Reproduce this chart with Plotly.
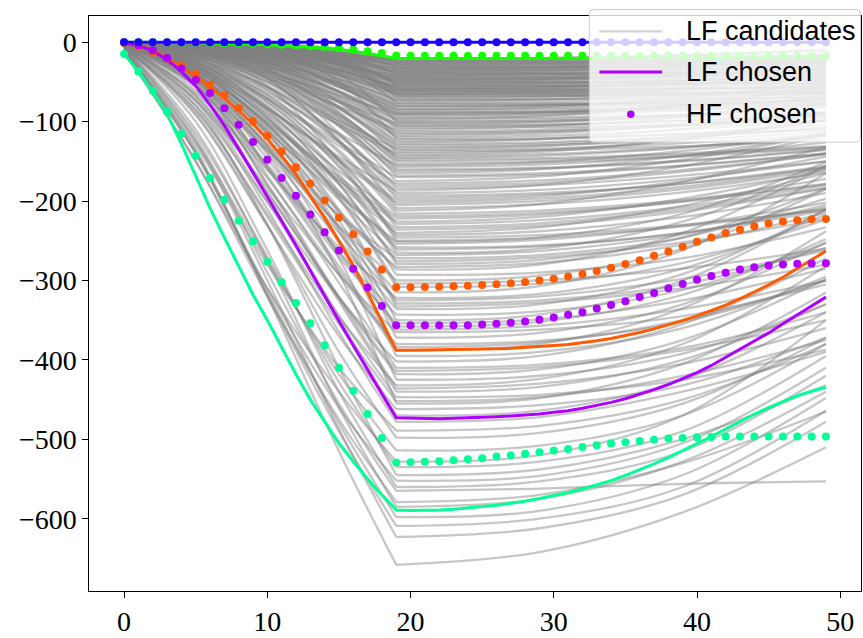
import plotly.graph_objects as go

# ---------------------------------------------------------------- data
steps = list(range(50))

# LF candidate curves, stored as values at knot positions.
# left part is sampled at knots_left, right part at knots_right (x=19 shared)
knots_left = [0, 5, 10, 15, 19]
knots_right = [19, 29, 39, 49]

# each row: [y0, y5, y10, y15, y19, y29, y39, y49]
cand_shallow = [
    [0, 0, -2, -8, -20, -20, -18, -16],
    [0, -1, -5, -13, -21, -20, -16, -11],
    [0, -3, -7, -15, -23, -23, -22, -21],
    [0, -1, -5, -14, -24, -22, -17, -9],
    [0, -1, -3, -10, -26, -25, -23, -19],
    [0, -3, -8, -17, -27, -27, -27, -27],
    [0, -1, -6, -17, -29, -28, -24, -17],
    [0, -1, -3, -12, -30, -30, -28, -25],
    [0, -2, -7, -19, -32, -32, -30, -28],
    [0, -4, -10, -21, -33, -32, -28, -23],
    [0, -1, -4, -14, -35, -35, -34, -33],
    [0, -2, -8, -22, -36, -34, -29, -21],
    [0, -4, -12, -24, -38, -37, -35, -31],
    [0, -1, -4, -16, -39, -39, -39, -39],
    [0, -2, -9, -25, -41, -40, -36, -29],
    [0, -5, -13, -27, -42, -41, -40, -37],
    [0, -1, -4, -18, -44, -44, -42, -40],
    [0, -2, -10, -27, -45, -44, -40, -35],
    [0, -5, -15, -30, -47, -47, -46, -45],
    [0, -2, -11, -29, -48, -46, -41, -33],
    [0, -1, -5, -20, -50, -49, -47, -43],
    [0, -6, -16, -33, -51, -51, -51, -51],
    [0, -3, -12, -32, -53, -52, -48, -41],
    [0, -1, -5, -22, -54, -54, -52, -49],
    [0, -3, -12, -34, -56, -56, -54, -52],
    [0, -6, -18, -36, -57, -56, -52, -47],
    [0, -1, -6, -24, -59, -59, -58, -57],
    [0, -3, -13, -36, -60, -58, -53, -45],
    [0, -7, -19, -40, -62, -61, -59, -55],
    [0, -1, -6, -25, -63, -63, -63, -63],
    [0, -3, -14, -39, -65, -64, -60, -53],
    [0, -7, -20, -42, -66, -65, -64, -61],
    [0, -1, -7, -27, -68, -68, -66, -64],
    [0, -4, -15, -42, -70, -69, -65, -60],
    [0, -8, -22, -46, -72, -72, -71, -70],
    [0, -4, -16, -44, -74, -72, -67, -59],
    [0, -2, -8, -30, -76, -75, -73, -69],
    [0, -9, -24, -50, -78, -78, -78, -78],
    [0, -4, -18, -48, -80, -79, -75, -68],
    [0, -2, -7, -14, -22, -22, -20, -17],
    [0, -1, -6, -15, -25, -25, -24, -23],
    [0, -3, -9, -18, -28, -27, -24, -20],
    [0, -1, -3, -12, -31, -31, -30, -28],
    [0, -2, -7, -20, -34, -33, -31, -28],
    [0, -4, -11, -24, -37, -36, -32, -25],
    [0, -1, -4, -16, -40, -40, -40, -39],
    [0, -2, -9, -26, -43, -42, -39, -34],
    [0, -5, -14, -29, -46, -46, -44, -42],
    [0, -2, -11, -29, -49, -48, -42, -35],
    [0, -1, -5, -21, -52, -51, -49, -46],
    [0, -6, -17, -35, -55, -55, -54, -52],
    [0, -3, -13, -35, -58, -57, -53, -47],
    [0, -7, -19, -39, -61, -61, -59, -56],
    [0, -3, -14, -38, -64, -63, -60, -56],
    [0, -1, -7, -27, -67, -67, -66, -65],
    [0, -2, -6, -13, -21, -21, -20, -19],
    [0, 0, -2, -9, -24, -24, -23, -21],
    [0, -1, -6, -16, -26, -26, -25, -24],
    [0, -3, -9, -19, -29, -29, -28, -26],
    [0, -1, -3, -13, -32, -31, -28, -24],
    [0, -4, -11, -22, -35, -35, -33, -30],
    [0, -2, -8, -23, -38, -38, -37, -36],
    [0, -1, -4, -16, -41, -40, -37, -33],
    [0, -5, -14, -28, -44, -44, -43, -41],
    [0, -2, -10, -28, -47, -46, -43, -38],
    [0, -6, -16, -32, -50, -50, -49, -48],
    [0, -1, -5, -21, -53, -52, -49, -44],
    [0, -6, -17, -36, -56, -55, -52, -48],
    [0, -3, -13, -35, -59, -59, -58, -57],
    [0, -1, -6, -25, -62, -61, -57, -51],
    [0, -7, -20, -42, -65, -65, -64, -63],
    [0, -3, -15, -41, -69, -68, -64, -58],
    [0, -8, -23, -47, -73, -72, -69, -65],
    [0, -4, -17, -46, -77, -77, -76, -75],
    [0, -9, -25, -51, -80.5, -80, -77, -73],
    [0, -9, -25, -52, -82, -80, -73, -62],
    [0, -9, -26, -54, -84, -83, -79, -72],
    [0, -4, -19, -51, -85, -82, -70, -50],
    [0, -4, -19, -52, -86, -85, -80, -72],
    [0, -10, -27, -56, -88, -87, -83, -76],
    [0, -10, -28, -57, -89, -88, -85, -80],
    [0, -5, -20, -54, -90, -88, -81, -70],
    [0, -11, -37, -67, -91, -89, -80, -63],
    [0, -5, -20, -55, -92, -90, -83, -71],
    [0, -5, -21, -56, -94, -92, -86, -76],
    [0, -11, -30, -61, -96, -95, -92, -88],
    [0, -11, -30, -62, -97, -93, -79, -57],
    [0, -11, -31, -63, -99, -97, -91, -82],
    [0, -2, -10, -40, -100, -99, -95, -90],
    [0, -12, -42, -75, -102, -100, -92, -78],
    [0, -5, -23, -62, -103, -101, -92, -78],
    [0, -5, -23, -63, -105, -104, -99, -92],
    [0, -12, -33, -68, -106, -104, -99, -91],
    [0, -5, -24, -65, -108, -107, -104, -99],
    [0, -13, -45, -81, -110, -106, -94, -65],
    [0, -12, -35, -72, -112, -110, -103, -93],
    [0, -6, -25, -68, -114, -112, -105, -94],
    [0, -13, -36, -74, -116, -113, -104, -90],
    [0, -13, -37, -76, -118, -115, -105, -88],
    [0, -6, -26, -71, -120, -118, -110, -98],
    [0, -2, -12, -49, -122, -121, -116, -110],
    [0, -6, -27, -74, -124, -122, -115, -104],
    [0, -6, -28, -76, -126, -122, -109, -88],
    [0, -14, -39, -81, -128, -126, -119, -108],
    [0, -14, -40, -83, -130, -128, -120, -108],
    [0, -15, -41, -84, -132, -130, -123, -113],
    [-1, -16, -55, -99, -134, -131, -118, -99],
    [0, -7, -29, -81, -136, -134, -127, -116],
    [0, -7, -30, -83, -138, -136, -131, -123],
    [-1, -17, -57, -104, -140, -136, -122, -98],
    [0, -16, -44, -91, -142, -138, -122, -97],
    [0, -16, -45, -93, -144, -141, -132, -118],
    [0, -7, -32, -88, -146, -143, -133, -118],
    [0, -7, -33, -89, -148, -146, -140, -131],
    [0, -17, -47, -96, -150, -148, -142, -132],
    [0, -7, -34, -92, -153, -151, -144, -133],
    [-1, -19, -64, -115, -155, -151, -137, -115],
    [0, -17, -49, -100, -157, -154, -143, -126],
    [0, -8, -35, -96, -160, -158, -149, -135],
    [0, -18, -50, -104, -162, -159, -150, -136],
    [0, -18, -51, -106, -165, -160, -143, -115],
    [0, -9, -37, -101, -168, -165, -155, -140],
    [-1, -20, -70, -126, -170, -167, -156, -140],
    [0, -9, -39, -105, -175, -169, -148, -115],
    [-1, -21, -72, -130, -178, -174, -161, -141],
    [0, -20, -56, -116, -181, -177, -163, -141],
    [0, -20, -57, -118, -184, -180, -168, -150],
    [-2, -30, -84, -144, -187, -180, -156, -117],
    [0, -10, -42, -114, -190, -186, -172, -150],
    [0, -21, -60, -124, -193, -190, -178, -158],
    [0, -22, -61, -126, -196, -192, -178, -156],
    [-1, -24, -82, -147, -199, -194, -175, -144],
    [-1, -24, -83, -150, -202, -197, -182, -158],
    [0, -10, -45, -123, -205, -200, -185, -160],
    [0, -10, -46, -125, -209, -204, -189, -164],
    [0, -23, -66, -136, -212, -204, -176, -132],
    [0, -24, -67, -139, -216, -212, -199, -178],
    [-1, -26, -90, -162, -219, -215, -201, -179],
    [-2, -35, -100, -170, -222, -217, -200, -172],
    [-2, -36, -102, -174, -226, -220, -197, -161],
    [0, -25, -71, -147, -229, -224, -207, -180],
    [0, -26, -72, -149, -233, -228, -210, -183],
    [-1, -28, -96, -174, -236, -231, -213, -184],
    [-1, -29, -98, -178, -240, -233, -206, -165],
    [0, -26, -75, -155, -243, -238, -220, -190],
    [0, -27, -76, -157, -246, -243, -230, -211],
    [0, -12, -55, -150, -250, -246, -232, -210],
    [-1, -30, -104, -188, -254, -249, -231, -202],
]

cand_mid = [
    [-2, -56, -193, -348, -470, -464, -425, -340],
    [-6, -92, -231, -370, -462, -457, -432, -372],
    [-1, -50, -141, -291, -455, -448, -405, -315],
    [-4, -72, -201, -344, -447, -444, -425, -387],
    [-2, -53, -180, -326, -440, -434, -400, -330],
    [-8, -86, -216, -346, -432, -424, -380, -282],
    [-1, -47, -132, -272, -425, -420, -392, -330],
    [-3, -67, -188, -322, -418, -412, -375, -298],
    [-2, -49, -168, -303, -410, -406, -385, -340],
    [-7, -80, -201, -322, -402, -395, -355, -272],
    [-1, -43, -122, -253, -395, -390, -360, -295],
    [-2, -47, -159, -287, -388, -380, -335, -238],
    [-3, -61, -171, -293, -380, -376, -352, -300],
    [-1, -41, -115, -238, -372, -366, -330, -252],
    [-6, -73, -183, -292, -365, -362, -345, -305],
    [-2, -43, -147, -265, -358, -352, -318, -248],
    [-1, -39, -109, -224, -350, -343, -300, -210],
    [-3, -55, -154, -264, -343, -339, -312, -253],
    [-2, -40, -138, -249, -336, -330, -292, -211],
    [-1, -36, -102, -211, -329, -325, -305, -259],
    [-5, -64, -161, -258, -322, -317, -285, -217],
    [-2, -38, -129, -233, -315, -307, -262, -165],
    [-1, -34, -95, -197, -308, -304, -278, -223],
    [-3, -48, -135, -231, -300, -294, -260, -185],
    [-1, -32, -91, -188, -293, -290, -272, -233],
    [-2, -34, -117, -212, -286, -280, -240, -156],
    [-1, -31, -86, -179, -279, -274, -246, -184],
    [-4, -54, -136, -218, -272, -268, -246, -197],
    [-1, -29, -82, -170, -265, -260, -226, -155],
    [-2, -31, -106, -191, -258, -256, -240, -208],
    [-2, -40, -113, -193, -251, -246, -216, -151],
    [-1, -28, -80, -166, -261, -257, -240, -212],
    [-2, -32, -110, -198, -268, -263, -242, -205],
    [-1, -30, -86, -178, -276, -271, -252, -222],
    [-3, -45, -128, -218, -283, -278, -255, -215],
    [-1, -33, -94, -194, -304, -300, -285, -260],
    [-2, -38, -132, -240, -325, -320, -298, -262],
    [-1, -37, -104, -215, -333, -328, -310, -280],
    [-3, -56, -158, -270, -354, -349, -325, -285],
    [-1, -40, -113, -233, -362, -357, -336, -300],
    [-2, -46, -156, -282, -384, -378, -350, -300],
    [-4, -68, -190, -320, -414, -409, -388, -350],
    [-2, -52, -178, -322, -436, -430, -405, -360],
    [-5, -85, -220, -355, -452, -447, -420, -375],
    [-3, -75, -210, -365, -478, -472, -440, -390],
]

cand_deep = [
    [-8, -135, -320, -515, -658, -642, -592, -510],
    [-6, -125, -300, -487, -623, -612, -570, -478],
    [-5, -120, -290, -455, -565, -562, -556, -553],
    [-10, -138, -318, -490, -609, -600, -560, -464],
    [-8, -140, -315, -480, -598, -590, -545, -448],
    [-12, -150, -320, -475, -579, -570, -530, -465],
    [-4, -100, -262, -440, -560, -553, -515, -420],
    [-10, -140, -310, -460, -552, -546, -505, -410],
    [-6, -115, -270, -428, -535, -528, -490, -395],
    [-8, -125, -275, -418, -514, -508, -470, -380],
    [-4, -90, -230, -390, -498, -492, -455, -372],
    [-10, -130, -280, -410, -489, -483, -450, -380],
    [-3, -80, -230, -410, -545, -538, -500, -432],
    [-5, -110, -275, -460, -585, -575, -528, -440],
    [-12, -150, -310, -440, -528, -520, -470, -350],
]

# chosen low-fidelity runs (full resolution)
lf_blue = [0.0] * 50
lf_green = [0, 0, 0, -0.2, -0.4, -0.7, -1.0, -1.4, -1.9, -2.5,
            -3.2, -4.0, -5.0, -6.2, -7.6, -9.4, -11.6, -14.2, -17.2, -20.5,
            -20.5, -20.5, -20.5, -20.5, -20.5, -20.5, -20.5, -20.5, -20.5, -20.5,
            -20.5, -20.5, -20.5, -20.5, -20.5, -20.5, -20.5, -20.5, -20.5, -20.5,
            -20.5, -20.5, -20.5, -20.5, -20.5, -20.5, -20.5, -20.5, -20.5, -20.5]
lf_orange = [-1, -4, -10, -20, -31, -43, -56, -70, -86, -103,
             -122, -143, -166, -193, -221, -250, -281, -315, -351, -388,
             -388, -387.8, -387.5, -387.2, -387, -386.5, -386, -385.5, -384.5, -383.5,
             -382, -380.5, -378.5, -376, -373, -369.5, -365.5, -361, -356, -350.5,
             -344.5, -338, -331, -323, -314.5, -305.5, -296, -284.5, -274, -263]
lf_purple = [-1, -4, -11, -22, -37, -55, -79, -105, -134, -164,
             -194, -225, -256, -288, -320, -351, -382, -413, -443, -473,
             -473.5, -474, -474, -473.5, -473, -472.5, -471.5, -470.5, -469.5, -468,
             -466, -464, -461, -457.5, -453.5, -449, -443.5, -437.5, -431, -424,
             -416, -407, -397, -387, -377, -366, -354.5, -343, -332, -321]
lf_teal = [-15, -37, -62, -90, -128, -169, -209, -246, -283, -318,
           -350, -385, -418, -450, -478, -505, -528, -550, -570, -589,
           -589.5, -589.5, -589, -588, -586.5, -585, -583, -580.5, -578, -574.5,
           -571, -567, -562.5, -557.5, -552, -545.5, -538.5, -531, -523, -514.5,
           -505.5, -496.5, -487, -477.5, -468.5, -460, -452, -445, -439.5, -434.5]

# chosen high-fidelity runs
hf_blue = [0.0] * 50
hf_green = [0, 0, 0, 0, -0.3, -0.5, -0.8, -1.2, -1.6, -2.0,
            -2.6, -3.2, -3.8, -4.8, -5.8, -7.2, -9.2, -11.3, -13.6, -16.8,
            -17.1, -17.1, -17.1, -17.1, -17.1, -17.1, -17.1, -17.1, -17.1, -17.1,
            -17.1, -17.1, -17.1, -17.1, -17.1, -17.1, -17.1, -17.1, -17.1, -17.1,
            -17.1, -17.1, -17.1, -17.1, -17.1, -17.1, -17.1, -17.1, -17.1, -17.1]
hf_orange = [-1, -5.8, -12.9, -20.5, -29.7, -40.1, -53.5, -66.8, -83.1, -99.8,
             -118.2, -137.4, -157.5, -177.9, -199.2, -220.6, -241.9, -263.6, -286.1, -308.6,
             -308.6, -308.2, -307.8, -307.4, -306.6, -305.7, -304.9, -303.6, -302.0, -299.9,
             -297.8, -294.9, -291.9, -288.2, -284.0, -279.4, -274.4, -269.0, -263.5, -257.7,
             -251.4, -246.0, -240.1, -236.0, -231.8, -228.4, -225.9, -224.3, -223.0, -222.6]
hf_purple = [0, -3.8, -10.0, -20.0, -33.0, -47.6, -63.9, -83.1, -104.0, -125.7,
             -147.9, -170.9, -193.4, -216.8, -239.3, -262.3, -285.3, -308.7, -332.1, -356.3,
             -356.3, -356.3, -356.3, -356.3, -356.3, -355.4, -354.6, -353.3, -351.7, -349.6,
             -346.6, -343.3, -340.0, -335.4, -330.8, -326.2, -320.8, -315.7, -309.9, -304.5,
             -299.0, -294.4, -290.3, -286.1, -283.2, -281.1, -279.8, -279.0, -278.6, -278.2]
hf_teal = [-15.0, -36.8, -61.0, -87.3, -115.3, -142.9, -170.9, -198.4, -224.7, -250.6,
           -276.5, -302.4, -328.3, -353.8, -381.5, -410.0, -439.0, -468.2, -498.3, -529.2,
           -528.8, -528.4, -527.5, -526.3, -525.0, -523.8, -521.7, -520.0, -518.3, -516.2,
           -514.2, -512.1, -509.6, -507.5, -505.4, -503.7, -502.0, -500.4, -499.1, -498.3,
           -497.4, -497.0, -496.6, -496.6, -496.6, -496.6, -496.6, -496.6, -496.6, -496.6]

series_names = ["teal", "orange", "purple", "green", "blue"]
series_colors = ["#00ff96", "#ff5a00", "#b000ff", "#14ff00", "#1e00ff"]
lf_series = [lf_teal, lf_orange, lf_purple, lf_green, lf_blue]
hf_series = [hf_teal, hf_orange, hf_purple, hf_green, hf_blue]

legend_labels = ["LF candidates", "LF chosen", "HF chosen"]

# ---------------------------------------------------------------- figure
CAND_COLOR = "rgba(128,128,128,0.45)"
CAND_WIDTH = 2.3
fig = go.Figure()

for row in cand_shallow + cand_mid + cand_deep:
    xs = knots_left + [None] + knots_right
    ys = row[:5] + [None] + row[4:]
    fig.add_trace(go.Scatter(
        x=xs, y=ys, mode="lines",
        line=dict(color=CAND_COLOR, width=CAND_WIDTH, shape="spline", smoothing=1),
        showlegend=False, hoverinfo="skip"))

for name, col, ys in zip(series_names, series_colors, lf_series):
    fig.add_trace(go.Scatter(
        x=steps, y=ys, mode="lines", name="LF " + name,
        line=dict(color=col, width=3), showlegend=False))

for name, col, ys in zip(series_names, series_colors, hf_series):
    fig.add_trace(go.Scatter(
        x=steps, y=ys, mode="markers", name="HF " + name,
        marker=dict(color=col, size=8, line=dict(width=0)), showlegend=False))

# plot area geometry (pixels) used to place the hand-built legend
W, H = 863, 638
ML, MR, MT, MB = 89, 1, 16, 43
PW, PH = W - ML - MR, H - MT - MB


def px_x(px):
    return (px - ML) / PW


def px_y(py):
    return 1 - (py - MT) / PH


# legend frame with rounded corners
x0, x1 = px_x(590), px_x(861.5)
y0, y1 = px_y(143), px_y(9.5)
rx, ry = 4 / PW, 4 / PH
frame = (f"M{x0 + rx},{y0} L{x1 - rx},{y0} Q{x1},{y0} {x1},{y0 + ry} "
         f"L{x1},{y1 - ry} Q{x1},{y1} {x1 - rx},{y1} "
         f"L{x0 + rx},{y1} Q{x0},{y1} {x0},{y1 - ry} "
         f"L{x0},{y0 + ry} Q{x0},{y0} {x0 + rx},{y0} Z")

shapes = [
    dict(type="path", path=frame, xref="paper", yref="paper", layer="above",
         fillcolor="rgba(255,255,255,0.8)", line=dict(color="#cccccc", width=1)),
    dict(type="line", xref="paper", yref="paper", layer="above",
         x0=px_x(600), x1=px_x(663), y0=px_y(31.5), y1=px_y(31.5),
         line=dict(color="rgba(128,128,128,0.35)", width=2.2)),
    dict(type="line", xref="paper", yref="paper", layer="above",
         x0=px_x(600), x1=px_x(663), y0=px_y(72.5), y1=px_y(72.5),
         line=dict(color=series_colors[2], width=3)),
    dict(type="circle", xref="paper", yref="paper", layer="above",
         x0=px_x(631.5 - 3.8), x1=px_x(631.5 + 3.8),
         y0=px_y(115 + 3.8), y1=px_y(115 - 3.8),
         fillcolor=series_colors[2], line=dict(width=0)),
]

annotations = []
for label, py in zip(legend_labels, [31.5, 72.5, 115]):
    annotations.append(dict(
        text=label, xref="paper", yref="paper", x=px_x(685), y=px_y(py),
        xanchor="left", yanchor="middle", showarrow=False,
        font=dict(family="Liberation Sans", size=27, color="black")))

fig.update_layout(
    width=W, height=H,
    margin=dict(l=ML, r=MR, t=MT, b=MB),
    paper_bgcolor="white", plot_bgcolor="white",
    shapes=shapes, annotations=annotations,
    showlegend=False,
    font=dict(family="Liberation Serif", size=28, color="black"),
)
axis_common = dict(showline=True, linecolor="black", linewidth=1.3, mirror=True,
                   ticks="outside", ticklen=5.5, tickwidth=1.3, tickcolor="black",
                   showgrid=False, zeroline=False,
                   tickfont=dict(family="Liberation Serif", size=28, color="black"))
fig.update_xaxes(range=[-2.45, 51.45], tickvals=[0, 10, 20, 30, 40, 50], **axis_common)
fig.update_yaxes(range=[-691, 33], tickvals=[-600, -500, -400, -300, -200, -100, 0],
                 **axis_common)

fig.write_html("out.html")
